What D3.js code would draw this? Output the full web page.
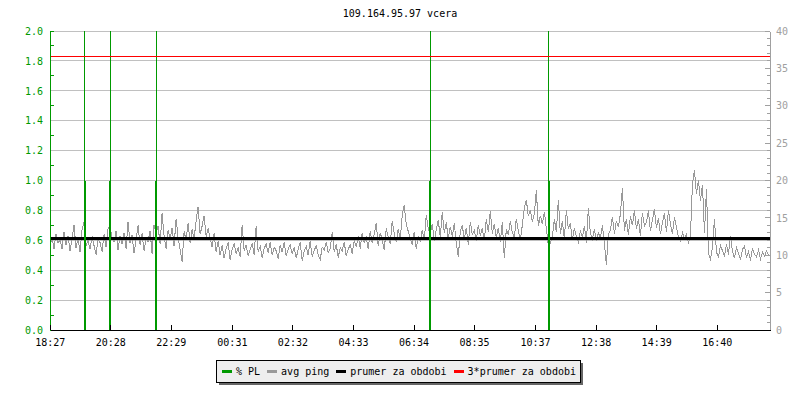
<!DOCTYPE html>
<html>
<head>
<meta charset="utf-8">
<script src="https://cdn.jsdelivr.net/npm/d3@7"></script>
<style>
  body { margin: 0; background: #fff; }
  svg text { font-family: "DejaVu Sans Mono", monospace; font-size: 10px; }
</style>
</head>
<body>
<div id="wrapper"></div>
<script>
// chart data
const title = "109.164.95.97 vcera"
const startTime = new Date(2000, 0, 1, 18, 27, 30)
const spanMinutes = 1439
const sampleMinutes = 4

// avg ping [ms], one sample every 4 minutes
const pingValues = [
  11.2, 12.4, 10.8, 12.9, 11.6, 12.1, 10.9, 13.1, 11.4, 12.6, 10.6, 12.2, 14.0, 11.0, 12.3, 10.4, 13.4, 14.5, 11.2, 12.0,
  10.8, 12.5, 11.3, 10.1, 12.2, 11.7, 10.5, 12.8, 11.1, 13.6, 13.9, 12.4, 11.8, 13.2, 10.7, 12.6, 11.5, 13.0, 10.9, 14.5,
  11.6, 12.7, 10.3, 12.1, 14.0, 11.4, 12.9, 10.6, 12.3, 11.8, 13.3, 10.2, 14.1, 12.8, 13.9, 11.5, 15.6, 12.6, 10.9, 13.4,
  12.1, 13.7, 11.2, 14.9, 12.4, 10.8, 9.1, 13.2, 12.0, 14.3, 11.6, 13.5, 12.2, 14.6, 16.5, 12.8, 13.9, 15.3, 12.5, 13.6,
  12.3, 11.1, 13.0, 10.4, 11.9, 10.0, 11.3, 9.6, 10.9, 11.7, 9.4, 10.8, 11.5, 10.2, 11.0, 9.8, 14.1, 10.6, 11.4, 9.9,
  10.7, 11.6, 10.1, 13.9, 10.5, 11.2, 9.7, 10.9, 11.5, 10.3, 11.8, 10.0, 11.1, 10.6, 9.5, 11.3, 10.4, 11.7, 9.9, 10.8,
  11.4, 10.2, 11.0, 9.6, 10.8, 11.7, 9.3, 10.5, 11.2, 10.0, 11.9, 9.8, 10.6, 11.3, 10.1, 9.4, 11.1, 10.7, 11.8, 10.3,
  10.9, 13.1, 10.4, 11.5, 9.7, 11.0, 10.6, 11.8, 9.9, 10.8, 11.4, 10.2, 12.0, 11.1, 12.6, 10.9, 13.0, 11.7, 12.4, 10.8,
  13.3, 11.6, 12.8, 14.3, 11.2, 13.0, 12.1, 10.7, 13.6, 12.4, 11.5, 14.6, 12.9, 11.8, 13.5, 12.2, 15.4, 16.7, 14.1, 13.2,
  12.3, 11.4, 13.1, 10.9, 12.6, 11.8, 13.4, 12.0, 15.4, 13.6, 12.8, 14.2, 11.9, 13.5, 14.7, 12.4, 15.8, 13.0, 14.4, 12.2,
  13.8, 12.5, 14.3, 11.6, 9.8, 13.2, 14.0, 12.1, 13.7, 11.4, 14.5, 12.8, 13.3, 11.9, 14.1, 12.6, 13.6, 12.0, 14.8, 13.1,
  15.9, 12.9, 14.2, 12.3, 13.7, 11.8, 14.4, 9.6, 13.5, 12.7, 14.6, 13.0, 12.4, 14.9, 13.3, 12.1, 14.0, 16.3, 17.4, 15.2,
  16.1, 14.4, 15.6, 18.7, 13.9, 15.3, 14.2, 15.8, 13.6, 11.3, 11.6, 12.4, 14.8, 13.1, 17.4, 12.8, 14.6, 12.2, 16.0, 13.5,
  14.3, 12.1, 13.6, 12.5, 11.8, 13.2, 12.4, 13.9, 11.7, 16.3, 12.9, 12.2, 13.5, 11.9, 13.0, 12.3, 14.0, 11.6, 8.7, 12.8,
  13.4, 15.1, 12.9, 14.6, 13.8, 15.5, 19.0, 13.3, 14.9, 12.7, 15.2, 14.0, 16.1, 13.5, 14.8, 12.6, 15.7, 13.9, 14.4, 16.0,
  13.2, 14.7, 16.2, 13.6, 15.0, 12.8, 14.3, 15.6, 13.1, 16.0, 14.2, 12.9, 15.1, 13.7, 12.4, 11.9, 13.0, 12.2, 12.8, 11.7,
  12.5, 19.6, 21.4, 18.2, 20.1, 17.3, 19.4, 13.0, 18.8, 10.2, 9.5, 11.1, 14.9, 10.4, 9.8, 11.3, 10.6, 9.9, 11.5, 10.1,
  12.6, 10.5, 9.6, 11.0, 10.3, 9.4, 10.8, 11.2, 9.7, 10.5, 9.3, 10.9, 10.1, 9.8, 10.7, 9.5, 10.4, 9.9, 10.6, 10.0
]

// packet loss events
const plTimes = ["19:37", "20:28", "22:00", "07:07", "11:04"]
const plValues = [1.0, 1.0, 1.0, 1.0, 1.0]

const avgPing = 12.18      // prumer za obdobi [ms]
const avgFactor = 3        // 3*prumer

const xTickLabels = ["18:27", "20:28", "22:29", "00:31", "02:32", "04:33", "06:34", "08:35", "10:37", "12:38", "14:39", "16:40"]
const leftTicks = [0, 0.2, 0.4, 0.6, 0.8, 1.0, 1.2, 1.4, 1.6, 1.8, 2.0]
const rightTicks = [0, 5, 10, 15, 20, 25, 30, 35, 40]
const legendItems = ["% PL", "avg ping", "prumer za obdobi", "3*prumer za obdobi"]

const colors = {
    pl: "#009900",
    ping: "#999999",
    avg: "#000000",
    avg3: "#ff0000",
    grid: "#c0c0c0",
    right: "#a0a0a0",
}

let dimensions = {
    width: 800,
    height: 400,
    margin: { top: 31, right: 30, bottom: 70, left: 50 },
}
dimensions.boundedWidth = dimensions.width - dimensions.margin.left - dimensions.margin.right
dimensions.boundedHeight = dimensions.height - dimensions.margin.top - dimensions.margin.bottom

// parse "HH:MM" into a date inside the 24h window
const parseClock = s => {
    const [h, m] = s.split(":").map(Number)
    const d = new Date(startTime)
    d.setHours(h, m, 0, 0)
    if (d < d3.timeMinute.offset(startTime, -1)) d.setDate(d.getDate() + 1)
    return d
}

const endTime = d3.timeMinute.offset(startTime, spanMinutes)
const pingData = pingValues.map((v, i) => ({ t: d3.timeMinute.offset(startTime, i * sampleMinutes), v }))
const plData = plTimes.map((t, i) => ({ t: parseClock(t), v: plValues[i] }))

const xScale = d3.scaleTime().domain([startTime, endTime]).range([0, dimensions.boundedWidth])
const yLeft = d3.scaleLinear().domain([0, 2]).range([dimensions.boundedHeight, 0])
const yRight = d3.scaleLinear().domain([0, 40]).range([dimensions.boundedHeight, 0])

const wrapper = d3.select("#wrapper")
    .append("svg")
    .attr("width", dimensions.width)
    .attr("height", dimensions.height)

wrapper.append("text")
    .attr("x", dimensions.width / 2)
    .attr("y", 17)
    .attr("text-anchor", "middle")
    .attr("fill", "#000")
    .text(title)

const bounds = wrapper.append("g")
    .attr("transform", `translate(${dimensions.margin.left}, ${dimensions.margin.top})`)
    .attr("shape-rendering", "crispEdges")

// grid
bounds.append("g")
    .selectAll("line")
    .data(leftTicks.filter(d => d > 0))
    .join("line")
    .attr("x1", 0)
    .attr("x2", dimensions.boundedWidth)
    .attr("y1", d => yLeft(d))
    .attr("y2", d => yLeft(d))
    .attr("stroke", colors.grid)

// avg ping line
const pingLine = d3.line()
    .x(d => xScale(d.t))
    .y(d => yRight(d.v))

bounds.append("path")
    .datum(pingData)
    .attr("d", pingLine)
    .attr("fill", "none")
    .attr("stroke", colors.ping)
    .attr("stroke-width", 1)

// prumer
bounds.append("line")
    .attr("x1", 0)
    .attr("x2", dimensions.boundedWidth)
    .attr("y1", yRight(avgPing))
    .attr("y2", yRight(avgPing))
    .attr("stroke", colors.avg)
    .attr("stroke-width", 3)

// packet loss
const pl = bounds.append("g").selectAll("g").data(plData).join("g")
pl.append("line")
    .attr("x1", d => xScale(d.t))
    .attr("x2", d => xScale(d.t))
    .attr("y1", yLeft(0))
    .attr("y2", yLeft.range()[1])
    .attr("stroke", colors.pl)
pl.append("line")
    .attr("x1", d => xScale(d.t))
    .attr("x2", d => xScale(d.t))
    .attr("y1", yLeft(0))
    .attr("y2", d => yLeft(d.v))
    .attr("stroke", colors.pl)
    .attr("stroke-width", 2)

// 3*prumer
bounds.append("line")
    .attr("x1", 0)
    .attr("x2", dimensions.boundedWidth)
    .attr("y1", yRight(avgPing * avgFactor))
    .attr("y2", yRight(avgPing * avgFactor))
    .attr("stroke", colors.avg3)

// left axis
const leftAxis = bounds.append("g")
    .call(d3.axisLeft(yLeft).tickValues(leftTicks).tickSize(0).tickPadding(7).tickFormat(d3.format(".1f")))
leftAxis.select(".domain").attr("stroke", colors.pl)
leftAxis.selectAll("text").attr("fill", colors.pl).style("font-size", "10px").style("font-family", "DejaVu Sans Mono")
bounds.append("g")
    .selectAll("line")
    .data(d3.range(1, 21, 2).map(d => d / 10).concat([2]))
    .join("line")
    .attr("x1", 0)
    .attr("x2", 4)
    .attr("y1", d => yLeft(d))
    .attr("y2", d => yLeft(d))
    .attr("stroke", colors.pl)

// right axis
const rightAxis = bounds.append("g")
    .attr("transform", `translate(${dimensions.boundedWidth}, 0)`)
    .call(d3.axisRight(yRight).tickValues(rightTicks).tickSize(0).tickPadding(6))
rightAxis.select(".domain").attr("stroke", colors.right)
rightAxis.selectAll("text").attr("fill", colors.right).style("font-size", "10px").style("font-family", "DejaVu Sans Mono")
rightAxis.append("g")
    .selectAll("line")
    .data(d3.range(0, 41))
    .join("line")
    .attr("x1", d => d % 5 === 0 ? -5 : -3)
    .attr("x2", 0)
    .attr("y1", d => yRight(d))
    .attr("y2", d => yRight(d))
    .attr("stroke", colors.right)

// bottom axis
const bottomAxis = bounds.append("g")
    .attr("transform", `translate(0, ${dimensions.boundedHeight})`)
    .call(d3.axisBottom(xScale)
        .tickValues(xTickLabels.map(parseClock))
        .tickSizeInner(-5)
        .tickSizeOuter(0)
        .tickPadding(9)
        .tickFormat(d3.timeFormat("%H:%M")))
bottomAxis.select(".domain").attr("stroke", "#000")
bottomAxis.selectAll(".tick line").attr("stroke", "#000")
bottomAxis.selectAll("text").attr("fill", "#000").style("font-size", "10px").style("font-family", "DejaVu Sans Mono")

// legend
const legendColors = [colors.pl, colors.ping, colors.avg, colors.avg3]
const legend = wrapper.append("g").attr("shape-rendering", "crispEdges")
const legendBox = { x: 216, y: 360, width: 364, height: 22 }
legend.append("rect")
    .attr("x", legendBox.x + 3).attr("y", legendBox.y + 3)
    .attr("width", legendBox.width).attr("height", legendBox.height)
    .attr("fill", "#666")
legend.append("rect")
    .attr("x", legendBox.x + 0.5).attr("y", legendBox.y + 0.5)
    .attr("width", legendBox.width).attr("height", legendBox.height)
    .attr("fill", "#eeeeee")
    .attr("stroke", "#000")

let lx = legendBox.x + 6
legendItems.forEach((label, i) => {
    legend.append("line")
        .attr("x1", lx).attr("x2", lx + 10)
        .attr("y1", legendBox.y + 11.5).attr("y2", legendBox.y + 11.5)
        .attr("stroke", legendColors[i])
        .attr("stroke-width", 3)
    const t = legend.append("text")
        .attr("x", lx + 14)
        .attr("y", legendBox.y + 15)
        .attr("fill", "#000")
        .text(label)
    lx += 14 + t.node().getComputedTextLength() + 7
})
</script>
</body>
</html>
